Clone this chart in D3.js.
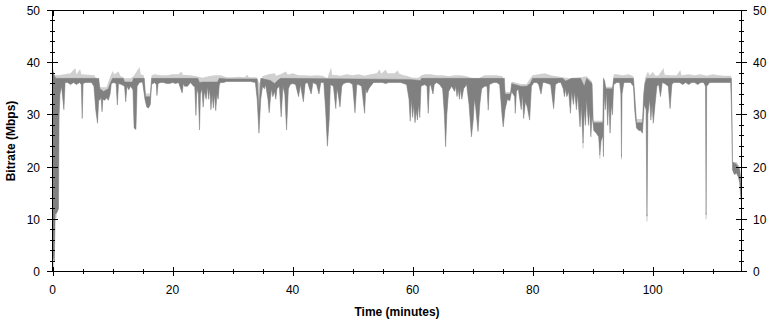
<!DOCTYPE html>
<html>
<head>
<meta charset="utf-8">
<script src="https://d3js.org/d3.v7.min.js"></script>
<style>
    body { margin: 0; background: #fff; }
    text { font-family: "Liberation Sans", Arial, sans-serif; font-size: 12px; fill: #000; }
</style>
</head>
<body>
<div id="canvas"></div>
<script>
const width = 773;
const height = 322;

// tick values
const xMajor = [0, 20, 40, 60, 80, 100];
const xMinor = [5, 10, 15, 25, 30, 35, 45, 50, 55, 65, 70, 75, 85, 90, 95, 105, 110];
const yMajor = [0, 10, 20, 30, 40, 50];
const yMinor = [2, 4, 6, 8, 12, 14, 16, 18, 22, 24, 26, 28, 32, 34, 36, 38, 42, 44, 46, 48];

// [minutes, Mbps] bottom edge of the dark trace
const darkLow = [
    [0, 36.2], [0.08, 3], [0.3, 2], [0.45, 11], [0.7, 11.2], [1.0, 12], [1.1, 30], [1.25, 34], [1.5, 35.5], [1.9, 31],
    [2.1, 36.2], [2.5, 36.2], [3, 35.8], [3.5, 36.2], [4, 35.8], [4.5, 36.2], [4.8, 35.8], [4.95, 29.3], [5.1, 36], [5.5, 36.2],
    [6, 36.2], [6.5, 36.2], [6.9, 35.5], [7.2, 31], [7.5, 28.4], [7.7, 33], [7.9, 32.8], [8.1, 33.5], [8.25, 30.6], [8.4, 33],
    [8.7, 32.8], [9, 33.3], [9.3, 32.8], [9.6, 34], [9.8, 36], [10.2, 36.2], [10.6, 36], [10.8, 31.9], [11, 36], [11.5, 35.8],
    [12, 35.5], [12.2, 32.5], [12.4, 35.5], [12.7, 34.8], [13, 35.5], [13.4, 34.8], [13.6, 27.5], [13.9, 27.2], [14.1, 35.5], [14.5, 36.2],
    [15, 36.3], [15.4, 33], [15.7, 31.5], [16, 31.3], [16.3, 32], [16.5, 35.8], [17, 36.2], [17.3, 35.8], [17.4, 33.7], [17.6, 36],
    [18, 36.2], [18.5, 36.2], [19, 36], [19.5, 36], [20, 36.2], [20.5, 36], [21, 36.2], [21.6, 34.2], [21.8, 36], [22, 35.5],
    [22.5, 35.5], [23, 36.2], [23.5, 35.5], [23.7, 35.5], [23.9, 29.9], [24.05, 35], [24.3, 34], [24.5, 27.1], [24.65, 34], [24.9, 35],
    [25.1, 31.5], [25.3, 34.5], [25.6, 33], [25.8, 35.5], [26.0, 33], [26.2, 35], [26.4, 31], [26.6, 34], [26.8, 31.3], [27.0, 34],
    [27.2, 30.8], [27.4, 34], [27.6, 33], [27.8, 35.8], [28, 36.2], [28.5, 36.2], [29, 36.4], [30, 36.4], [31, 36.4], [32, 36.4],
    [33, 36.4], [33.8, 36.2], [34.1, 33], [34.4, 26.5], [34.7, 33], [35, 35.5], [35.3, 35], [35.5, 35.8], [35.9, 33], [36.1, 30.4],
    [36.3, 33], [36.5, 35], [36.7, 33.5], [37, 34.5], [37.2, 33], [37.4, 35], [37.8, 35.5], [38.1, 29.6], [38.4, 35.5], [38.7, 34],
    [39.0, 27.1], [39.3, 35], [39.6, 35.8], [40, 36], [40.5, 35.8], [41, 33.5], [41.3, 35.8], [41.8, 32.5], [42.1, 36], [42.5, 36.2],
    [43.1, 34], [43.4, 36.2], [44, 35.8], [44.4, 34], [44.7, 36.2], [45.2, 36.2], [45.5, 31], [45.8, 24], [46.1, 29], [46.3, 35.8],
    [46.8, 35.5], [47.2, 31.2], [47.4, 35], [47.6, 34], [47.9, 31.5], [48.2, 35.5], [48.5, 36], [49, 36.2], [49.5, 36.2], [50, 35.8],
    [50.4, 30.4], [50.7, 35.8], [51, 35.8], [51.5, 35.5], [52, 30.3], [52.2, 35], [52.4, 34.2], [52.7, 35], [53, 35.5], [53.5, 36.2],
    [54, 36.2], [54.5, 36.2], [55, 36.2], [55.5, 36], [56, 36.2], [56.5, 36.2], [57, 36.2], [57.5, 36.2], [58, 36.2], [58.5, 36],
    [59, 35.8], [59.4, 33], [59.6, 28.8], [59.8, 33], [60, 29.5], [60.2, 32], [60.4, 28.5], [60.6, 31], [60.8, 29], [61, 32],
    [61.2, 29.5], [61.4, 35.5], [62, 35.8], [62.4, 35.5], [62.6, 30.3], [62.8, 35.5], [63, 35.8], [63.4, 34], [63.6, 35.8], [64, 36.2],
    [64.5, 35.8], [65, 35], [65.3, 30], [65.5, 23.9], [65.7, 30], [66, 34.5], [66.5, 35.5], [67, 34.5], [67.2, 35.5], [67.4, 33.5],
    [67.6, 35], [67.8, 33], [68.0, 35], [68.2, 33], [68.5, 35], [69, 35.8], [69.4, 32], [69.8, 25.8], [70.1, 29], [70.3, 33],
    [70.5, 31.5], [70.9, 26.8], [71.2, 32], [71.5, 35], [72, 35.5], [72.4, 35.5], [72.6, 30.9], [72.8, 35.8], [73.5, 36.2], [74, 36.2],
    [74.5, 35.8], [74.9, 30], [75.1, 27.7], [75.4, 31], [75.8, 33], [76.2, 32.7], [76.5, 34.5], [77, 33.5], [77.1, 30.3], [77.3, 34.5],
    [77.6, 35], [78.1, 31], [78.3, 34], [78.5, 29.3], [78.8, 32.5], [79.1, 31.5], [79.5, 29], [79.8, 35.5], [80.2, 36.2], [80.7, 36.2],
    [81, 35.8], [81.4, 34], [81.7, 36.2], [82, 36.2], [82.5, 36], [83, 35.8], [83.3, 33], [83.5, 31.2], [83.8, 35.8], [84.3, 36.2],
    [84.7, 36.2], [85.1, 35], [85.3, 33.5], [85.5, 35], [85.7, 33.5], [86, 34.5], [86.3, 30.3], [86.5, 34.5], [86.8, 32], [87, 34.5],
    [87.3, 31], [87.5, 34], [87.9, 27.7], [88.1, 32], [88.4, 24.6], [88.6, 31], [88.8, 28], [89, 33], [89.3, 28], [89.5, 31],
    [89.7, 25.8], [89.9, 30], [90.2, 27], [90.6, 26.5], [91, 25.8], [91.2, 22.3], [91.4, 25], [91.7, 26], [91.8, 22], [91.9, 34],
    [92.1, 31], [92.3, 34.5], [92.5, 28], [92.7, 33], [92.9, 26.5], [93.1, 32], [93.3, 30], [93.5, 35.8], [94, 36.2], [94.5, 36.2],
    [94.7, 34], [94.8, 22], [94.9, 34], [95.2, 36.2], [95.8, 36.2], [96.3, 36.2], [96.8, 35.5], [97, 31], [97.3, 27.5], [97.7, 27],
    [98, 27], [98.3, 26.5], [98.6, 32], [98.9, 31], [99.05, 10.6], [99.2, 30], [99.5, 33], [99.7, 29], [99.9, 32], [100.1, 28.4],
    [100.4, 32], [100.7, 35.5], [101, 35.8], [101.3, 33.5], [101.6, 36.2], [102, 36], [102.6, 35.5], [102.9, 31.2], [103.2, 35.8], [103.5, 36.2],
    [104, 36.2], [104.5, 36.2], [105, 35.8], [105.5, 36.2], [106, 35.8], [106.5, 36.2], [107, 36.2], [107.5, 35.8], [108, 36.2], [108.5, 36.2],
    [108.8, 35.5], [108.9, 10.9], [109.0, 35.5], [109.5, 36.2], [110, 36.2], [110.5, 36.2], [111, 36.2], [111.5, 36.2], [112, 36.2], [112.5, 36.2],
    [113, 36.2], [113.2, 28], [113.3, 19.5], [113.6, 18.6], [114, 18.8], [114.3, 18], [114.5, 17], [114.65, 14.5], [114.8, 13.4]
];

// [minutes, Mbps] top edge of the dark trace
const darkHigh = [
    [0, 38.5], [0.5, 37], [7.7, 37], [7.9, 35], [8.5, 34.5], [9.3, 35], [9.6, 36], [10, 37], [11.8, 37], [12, 36.3],
    [13.3, 36.3], [13.5, 37], [15.3, 37], [15.5, 33.5], [16.3, 33.5], [16.5, 37], [24.2, 37], [24.5, 36.2], [25, 36.3], [27.5, 36.3],
    [27.8, 37], [29, 36.9], [34.1, 36.9], [34.4, 31], [34.7, 37], [36.3, 36.6], [37, 36], [37.5, 36.6], [38, 37], [59.5, 36.8],
    [61.3, 36.6], [61.5, 37], [75.3, 37], [75.4, 34], [76.3, 34], [76.5, 36], [78, 35.5], [79, 35.5], [79.6, 36], [80, 37],
    [85, 37], [85.5, 36.5], [86.5, 37], [88, 37], [88.6, 35.5], [89, 37], [89.9, 36], [90.1, 28.5], [91.7, 28.5], [91.8, 37],
    [92, 36.5], [92.2, 35], [93.3, 35], [93.5, 37], [96.8, 37], [97.0, 34], [97.3, 28.5], [98.3, 28.5], [98.5, 34], [98.7, 36],
    [99, 37], [100.5, 37], [113.1, 37], [113.3, 21], [114, 20.5], [114.5, 19.5], [114.8, 16]
];

// [minutes, Mbps] top edge of the light trace
const lightHigh = [
    [0, 39.5], [0.3, 37.6], [1, 37.6], [2, 37.8], [3, 38], [3.8, 39], [4.0, 37.8], [4.6, 38.8], [4.8, 37.8], [6, 37.7],
    [7, 37.6], [7.6, 36], [8, 35.3], [9, 35.3], [9.6, 37.3], [10, 38.4], [10.3, 37.8], [11, 38.3], [11.3, 37.5], [12, 37],
    [13, 37], [13.5, 37.4], [14.5, 39.2], [14.7, 37.8], [15.2, 37.6], [15.5, 34.1], [16.3, 34.1], [16.5, 37.6], [17, 37.8], [18, 37.6],
    [19, 37.6], [20, 37.8], [21, 37.8], [21.5, 38.3], [21.7, 37.7], [23, 37.6], [24, 37.4], [25, 37.1], [26, 37.4], [27, 37.6],
    [28, 37.6], [28.5, 37.4], [29, 37.2], [30, 37.2], [31, 37.3], [32, 37.2], [32.5, 37.7], [32.7, 37.2], [34, 37.2], [34.5, 36],
    [35, 37.4], [36, 37.8], [37, 38], [37.3, 37.5], [38, 37.8], [38.9, 38.3], [39.2, 37.7], [40, 38], [41, 37.6], [42, 37.6],
    [43, 37.5], [44, 37.6], [45, 37.5], [45.8, 37], [46.4, 39.1], [46.6, 37.7], [47.5, 37.6], [48, 37.5], [49, 37.8], [50, 37.6],
    [51, 37.8], [52, 37.5], [53, 37.8], [54, 38], [54.5, 38.7], [54.8, 37.9], [55.5, 38.7], [55.8, 38], [57, 38], [57.5, 38.5],
    [57.8, 37.9], [58.5, 37.6], [59, 37.5], [60, 37.1], [61, 37.1], [61.5, 37.6], [62, 37.8], [63, 37.8], [64, 37.6], [65, 37.6],
    [66, 37.4], [67, 37.6], [68, 37.6], [69, 37.4], [70, 37], [71, 37], [72, 37.6], [73, 37.6], [74, 37.6], [75, 37.4],
    [75.5, 34.4], [76.3, 34.4], [76.5, 36.4], [78, 35.9], [79, 35.9], [79.6, 37], [80, 37.6], [81, 37.8], [82, 38], [83, 37.6],
    [84, 37.4], [85, 37.2], [86, 37], [88, 37.2], [89, 37.4], [89.9, 36.4], [90.1, 28.9], [91.7, 28.9], [91.8, 37.4], [92.2, 35.4],
    [93.3, 35.4], [93.5, 37.8], [94, 37.8], [95, 37.6], [96, 37.8], [96.8, 37.4], [97.3, 29.2], [98.3, 29.2], [98.7, 37], [99.2, 38.3],
    [99.5, 37.6], [100, 38.2], [100.5, 37.5], [101, 37.6], [101.8, 39], [102.0, 37.7], [103, 37.6], [104, 37.6], [104.6, 38.6], [104.8, 37.6],
    [106, 37.8], [107, 37.6], [108, 37.8], [109, 37.5], [110, 37.8], [111, 37.6], [112, 37.5], [113, 37.5], [113.2, 37], [113.3, 21],
    [114, 21], [114.5, 20], [114.8, 16.5]
];

// [minutes, from Mbps, to Mbps] places where the light trace reaches below the dark one
const lightTails = [
    [0.2, 4, 0], [0.6, 11.5, 10.3], [88.4, 25, 23.6], [91.2, 22.5, 21.6], [94.8, 22.5, 21.5],
    [99.05, 11, 9.6], [108.9, 11.2, 10]
];

const svg = d3.select("#canvas")
    .append("svg")
    .attr("width", width)
    .attr("height", height);

const x = d3.scaleLinear().domain([0, 114.8]).range([52.5, 741.5]);
const y = d3.scaleLinear().domain([0, 50]).range([271.5, 10.5]);

const line = d3.line()
    .x(d => x(d[0]))
    .y(d => y(d[1]));

//light trace, then dark trace on top

svg.append("path")
    .attr("d", line(lightHigh.concat(darkLow.slice().reverse())) + "Z")
    .attr("fill", "#d0d0d0");

svg.selectAll(".tail")
    .data(lightTails)
    .enter()
    .append("line")
    .attr("class", "tail")
    .attr("x1", d => x(d[0]))
    .attr("x2", d => x(d[0]))
    .attr("y1", d => y(d[1]))
    .attr("y2", d => y(d[2]))
    .attr("stroke", "#c8c8c8")
    .attr("stroke-width", 1);

svg.append("path")
    .attr("d", line(darkHigh.concat(darkLow.slice().reverse())) + "Z")
    .attr("fill", "#808080")
    .attr("stroke", "#808080")
    .attr("stroke-width", 0.5)
    .attr("stroke-linejoin", "round");

//frame

svg.append("rect")
    .attr("x", x(0))
    .attr("y", y(50))
    .attr("width", x(114.8) - x(0))
    .attr("height", y(0) - y(50))
    .attr("fill", "none")
    .attr("stroke", "#000")
    .attr("stroke-width", 1);

//ticks

function vTicks(vals, y1, y2) {
    svg.append("g").selectAll("line")
        .data(vals)
        .enter()
        .append("line")
        .attr("x1", d => Math.round(x(d)) + 0.5)
        .attr("x2", d => Math.round(x(d)) + 0.5)
        .attr("y1", y1)
        .attr("y2", y2)
        .attr("stroke", "#000");
}

function hTicks(vals, x1, x2) {
    svg.append("g").selectAll("line")
        .data(vals)
        .enter()
        .append("line")
        .attr("x1", x1)
        .attr("x2", x2)
        .attr("y1", d => Math.round(y(d) - 0.5) + 0.5)
        .attr("y2", d => Math.round(y(d) - 0.5) + 0.5)
        .attr("stroke", "#000");
}

vTicks(xMajor, 267, 276);
vTicks(xMinor, 269, 274);
vTicks(xMajor, 10, 16);
vTicks(xMinor, 10, 14);

hTicks(yMajor, 47, 58);
hTicks(yMinor, 50, 55);
hTicks(yMajor, 736, 747);
hTicks(yMinor, 739, 744);

//tick labels

svg.append("g").selectAll("text")
    .data(xMajor)
    .enter()
    .append("text")
    .attr("x", d => x(d))
    .attr("y", 294)
    .attr("text-anchor", "middle")
    .text(d => d);

svg.append("g").selectAll("text")
    .data(yMajor)
    .enter()
    .append("text")
    .attr("x", 40)
    .attr("y", d => y(d) + 4.5)
    .attr("text-anchor", "end")
    .text(d => d);

svg.append("g").selectAll("text")
    .data(yMajor)
    .enter()
    .append("text")
    .attr("x", 753)
    .attr("y", d => y(d) + 4.5)
    .attr("text-anchor", "start")
    .text(d => d);

//axis titles

svg.append("text")
    .attr("x", 397)
    .attr("y", 316)
    .attr("text-anchor", "middle")
    .attr("font-weight", "bold")
    .text("Time (minutes)");

svg.append("text")
    .attr("transform", "translate(15,141)rotate(-90)")
    .attr("text-anchor", "middle")
    .attr("font-weight", "bold")
    .text("Bitrate (Mbps)");
</script>
</body>
</html>
